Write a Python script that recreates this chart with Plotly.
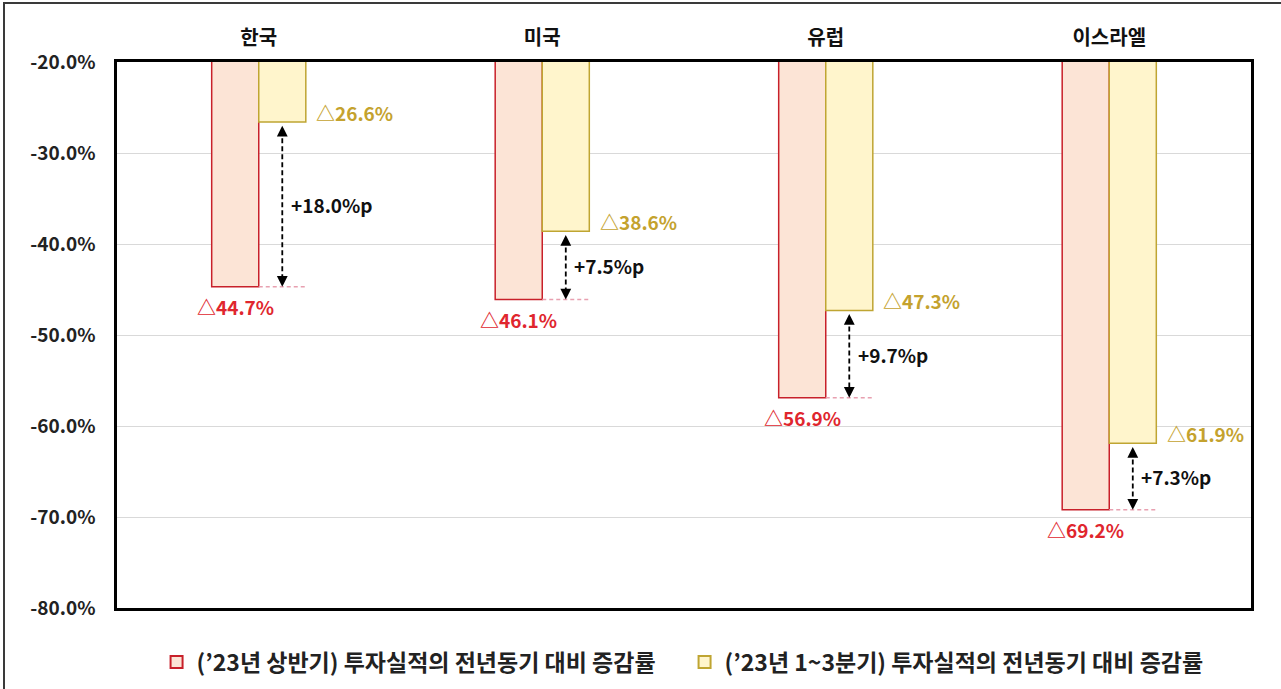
import plotly.graph_objects as go

categories = ["한국", "미국", "유럽", "이스라엘"]
h1_values = [-44.7, -46.1, -56.9, -69.2]      # '23 상반기
q13_values = [-26.6, -38.6, -47.3, -61.9]     # '23 1~3분기
diff_labels = ["+18.0%p", "+7.5%p", "+9.7%p", "+7.3%p"]
series_names = ["(’23년 상반기) 투자실적의 전년동기 대비 증감률",
                "(’23년 1~3분기) 투자실적의 전년동기 대비 증감률"]
y_ticks = [-20, -30, -40, -50, -60, -70, -80]

FONT = "Noto Sans CJK KR"
RED_FILL, RED_LINE, RED_TEXT = "#FCE4D6", "#C8202A", "#E0262E"
YEL_FILL, YEL_LINE, YEL_TEXT = "#FFF5CC", "#BFA532", "#C4A22E"

fig = go.Figure()
fig.add_trace(go.Bar(x=list(range(4)), y=h1_values, name=series_names[0],
                     marker=dict(color=RED_FILL, line=dict(color=RED_LINE, width=1.5))))
fig.add_trace(go.Bar(x=list(range(4)), y=q13_values, name=series_names[1],
                     marker=dict(color=YEL_FILL, line=dict(color=YEL_LINE, width=1.5))))

bw = 0.166  # bar width in category units (for annotation placement)
for i in range(4):
    r, yv = h1_values[i], q13_values[i]
    # pink dashed reference line at red value
    fig.add_shape(type="line", x0=i, x1=i + bw, y0=r, y1=r, xref="x", yref="y",
                  line=dict(color="#E8A0B0", width=1.5, dash="4px,3px"))
    ax_x = i + bw / 2
    # dashed vertical line
    fig.add_shape(type="line", x0=ax_x, x1=ax_x, y0=yv - 0.9, y1=r + 0.9, xref="x", yref="y",
                  line=dict(color="black", width=1.8, dash="5px,3px"))
    # arrowheads
    fig.add_annotation(x=ax_x, y=yv - 0.4, ax=0, ay=10, xref="x", yref="y", text="",
                       showarrow=True, arrowhead=2, arrowsize=1.2, arrowwidth=1.8, arrowcolor="black")
    fig.add_annotation(x=ax_x, y=r, ax=0, ay=-10, xref="x", yref="y", text="",
                       showarrow=True, arrowhead=2, arrowsize=1.2, arrowwidth=1.8, arrowcolor="black")
    # diff label
    fig.add_annotation(x=i + 0.105, y=(yv + r) / 2, xref="x", yref="y", text=diff_labels[i],
                       showarrow=False, xanchor="left", yanchor="middle",
                       font=dict(family=FONT, size=19, color="#111111", weight="bold"))
    # yellow value label
    fig.add_annotation(x=i + 0.195, y=yv, xref="x", yref="y", text="△" + f"{-yv:.1f}%",
                       showarrow=False, xanchor="left", yanchor="middle", yshift=10,
                       font=dict(family=FONT, size=19, color=YEL_TEXT, weight="bold"))
    # red value label
    fig.add_annotation(x=i - bw / 2, y=r, xref="x", yref="y", text="△" + f"{-r:.1f}%",
                       showarrow=False, xanchor="center", yanchor="top", yshift=-4,
                       font=dict(family=FONT, size=19, color=RED_TEXT, weight="bold"))

# outer frame
L, R, T, B = 117, 1251, 62, 608
pw, ph = R - L, B - T
fig.add_shape(type="rect", xref="paper", yref="paper",
              x0=(4 - L) / pw, x1=(1290 - L) / pw, y0=(B - 700) / ph, y1=(B - 3) / ph,
              line=dict(color="#3A3A3A", width=2), layer="below")

fig.update_layout(
    width=1281, height=689,
    margin=dict(l=L, r=1281 - R, t=T, b=689 - B, autoexpand=False),
    paper_bgcolor="white", plot_bgcolor="white",
    barmode="group", bargap=0.668, bargroupgap=0,
    font=dict(family=FONT, color="#222222"),
    showlegend=True,
    legend=dict(orientation="h", x=0.5005, xanchor="center", y=-0.099, yanchor="middle",
                font=dict(family=FONT, size=23, color="#222222", weight="bold"),
                itemsizing="constant", traceorder="normal", entrywidth=483),
    xaxis=dict(type="linear", range=[-0.5, 3.5], side="top", tickmode="array",
               tickvals=list(range(4)), ticktext=categories, ticks="",
               tickfont=dict(family=FONT, size=20, color="#111111", weight="bold"),
               showline=True, mirror=True, linecolor="black", linewidth=2.5,
               showgrid=False, zeroline=False, ticklabelstandoff=6),
    yaxis=dict(range=[-80, -20], tickvals=y_ticks, ticktext=[f"{v:.1f}%" for v in y_ticks],
               tickfont=dict(family=FONT, size=19, color="#222222", weight="bold"),
               showline=True, mirror=True, linecolor="black", linewidth=2.5,
               showgrid=True, gridcolor="#D9D9D9", gridwidth=1, zeroline=False,
               ticks="", ticklabelstandoff=15),
)

fig.write_html("out.html", config={"displayModeBar": False},
               post_script="document.body.style.margin='0';document.body.style.overflow='hidden';")
